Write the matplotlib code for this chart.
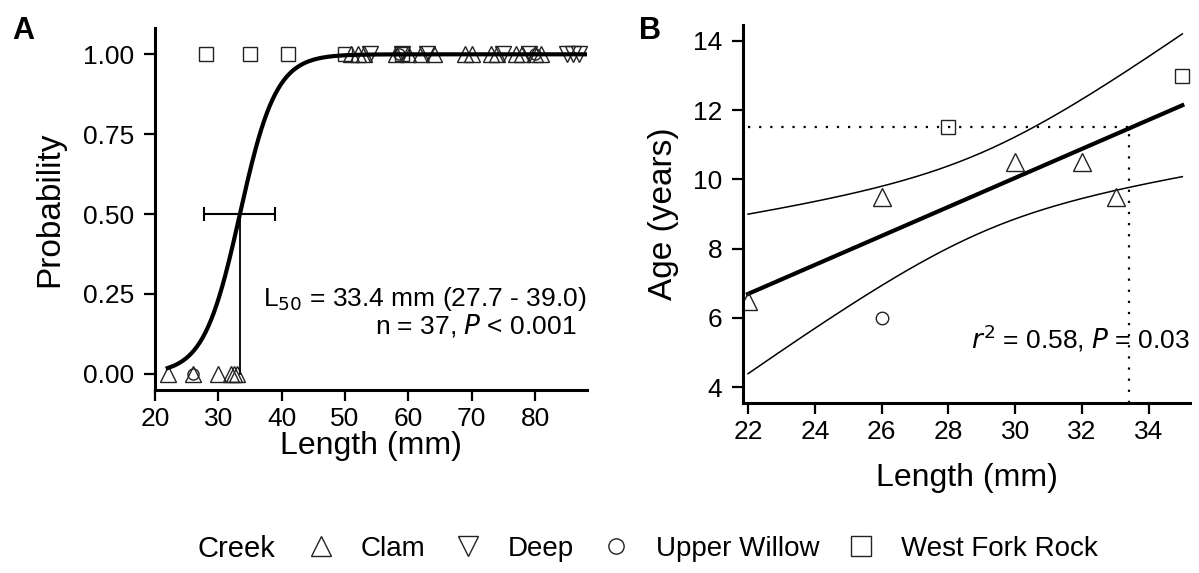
import numpy as np
import matplotlib.pyplot as plt

plt.rcParams['font.family'] = ['Liberation Sans', 'DejaVu Sans']

# ---- panel A data: maturity (0/1) vs length, by creek ----
clam_len = [22, 26, 30, 32, 32.5, 33,
            51, 52, 53, 58, 60, 62, 64, 69, 70, 73, 74, 77, 78, 80, 81]
clam_mat = [0, 0, 0, 0, 0, 0,
            1, 1, 1, 1, 1, 1, 1, 1, 1, 1, 1, 1, 1, 1, 1]
deep_len = [54, 59, 63, 75, 79, 85, 86, 87]
deep_mat = [1, 1, 1, 1, 1, 1, 1, 1]
willow_len = [26, 58.5, 80]
willow_mat = [0, 1, 1]
wfr_len = [28, 35, 41, 50, 59]
wfr_mat = [1, 1, 1, 1, 1]

# logistic fit reported
L50 = 33.4
L50_ci = (27.7, 39.0)
logit_slope = 0.35

# ---- panel B data: age vs length ----
b_len = [22, 26, 26, 28, 30, 32, 33, 35]
b_age = [6.5, 9.5, 6.0, 11.5, 10.5, 10.5, 9.5, 13.0]
b_creek = ['Clam', 'Clam', 'Upper Willow', 'West Fork Rock', 'Clam', 'Clam', 'Clam', 'West Fork Rock']

markers = {'Clam': '^', 'Deep': 'v', 'Upper Willow': 'o', 'West Fork Rock': 's'}
msize_a = {'Clam': 11, 'Deep': 11, 'Upper Willow': 8, 'West Fork Rock': 10}
msize_b = {'Clam': 13, 'Deep': 13, 'Upper Willow': 9, 'West Fork Rock': 10}

fig = plt.figure(figsize=(11.99, 5.73), dpi=100)
axA = fig.add_axes([0.1293, 0.3194, 0.3603, 0.6317])
axB = fig.add_axes([0.6197, 0.2967, 0.3728, 0.6597])

def style(ax):
    for s in ['top', 'right']:
        ax.spines[s].set_visible(False)
    for s in ['left', 'bottom']:
        ax.spines[s].set_linewidth(2.2)
    ax.tick_params(direction='out', length=8, width=1.6, labelsize=19, pad=4)
    ax.tick_params(axis='y', pad=7)

# ---- panel A ----
style(axA)
groups = [('Clam', clam_len, clam_mat), ('Deep', deep_len, deep_mat),
          ('Upper Willow', willow_len, willow_mat), ('West Fork Rock', wfr_len, wfr_mat)]
for name, xs, ys in groups:
    axA.plot(xs, ys, linestyle='none', marker=markers[name], ms=msize_a[name],
             mfc='none', mec='#222222', mew=1.0)

xx = np.linspace(22, 88, 300)
axA.plot(xx, 1 / (1 + np.exp(-logit_slope * (xx - L50))), color='black', lw=3)
axA.plot([L50, L50], [0, 0.5], color='black', lw=1.3)
axA.errorbar([L50], [0.5], xerr=[[L50 - L50_ci[0]], [L50_ci[1] - L50]],
             fmt='none', ecolor='black', elinewidth=1.5, capsize=5, capthick=1.5)

axA.set_xlim(20, 88.2)
axA.set_ylim(-0.0506, 1.0823)
axA.set_xticks([20, 30, 40, 50, 60, 70, 80])
axA.set_yticks([0, 0.25, 0.5, 0.75, 1.0])
axA.set_yticklabels(['0.00', '0.25', '0.50', '0.75', '1.00'])
axA.set_xlabel('Length (mm)', fontsize=23, labelpad=0)
axA.set_ylabel('Probability', fontsize=24, labelpad=13)
axA.text(0.998, 0.25, r'L$_{50}$ = %.1f mm (%.1f - %.1f)' % (L50, L50_ci[0], L50_ci[1]),
         transform=axA.transAxes, ha='right', va='center', fontsize=19)
axA.text(0.975, 0.177, r'n = 37, $\it{P}$ < 0.001',
         transform=axA.transAxes, ha='right', va='center', fontsize=19)

# ---- panel B ----
style(axB)
bx = np.array(b_len, dtype=float)
by = np.array(b_age, dtype=float)
n = len(bx)
slope, icpt = np.polyfit(bx, by, 1)
resid = by - (icpt + slope * bx)
s = np.sqrt(np.sum(resid ** 2) / (n - 2))
sxx = np.sum((bx - bx.mean()) ** 2)
gx = np.linspace(bx.min(), bx.max(), 200)
gy = icpt + slope * gx
se = s * np.sqrt(1 / n + (gx - bx.mean()) ** 2 / sxx)
axB.plot(gx, gy, color='black', lw=3)
axB.plot(gx, gy + 1.96 * se, color='black', lw=1.1)
axB.plot(gx, gy - 1.96 * se, color='black', lw=1.1)

age_at_L50 = 11.5
axB.plot([bx.min(), L50], [age_at_L50, age_at_L50], color='black', lw=1.6,
         linestyle=(0, (1, 4)))
axB.plot([L50, L50], [3.54, age_at_L50], color='black', lw=1.6,
         linestyle=(0, (1, 4)))

for name in markers:
    xs = [x for x, c in zip(b_len, b_creek) if c == name]
    ys = [y for y, c in zip(b_age, b_creek) if c == name]
    if xs:
        axB.plot(xs, ys, linestyle='none', marker=markers[name], ms=msize_b[name],
                 mfc='none', mec='#222222', mew=1.0)

axB.set_xlim(21.85, 35.23)
axB.set_ylim(3.54, 14.46)
axB.set_xticks(np.arange(22, 35, 2))
axB.set_yticks(np.arange(4, 15, 2))
axB.set_xlabel('Length (mm)', fontsize=23, labelpad=14)
axB.set_ylabel('Age (years)', fontsize=24, labelpad=10)
axB.text(1.0, 0.172, r'$\it{r}^2$ = 0.58, $\it{P}$ = 0.03', transform=axB.transAxes,
         ha='right', va='center', fontsize=19)

fig.text(0.01, 0.946, 'A', fontsize=22, fontweight='bold', va='center')
fig.text(0.533, 0.946, 'B', fontsize=22, fontweight='bold', va='center')

# ---- legend ----
handles = [plt.Line2D([], [], linestyle='none', marker=markers[k], ms=14 if k != 'Upper Willow' else 11,
                      mfc='none', mec='#222222', mew=1.0) for k in markers]
fig.text(0.165, 0.042, 'Creek', fontsize=21, va='center')
fig.legend(handles, list(markers.keys()), loc='center left', bbox_to_anchor=(0.256, 0.042),
           ncol=4, frameon=False, fontsize=20, handlelength=1.0, handletextpad=0.95,
           columnspacing=1.0, borderaxespad=0, borderpad=0)

fig.savefig('out.png', dpi=100)
